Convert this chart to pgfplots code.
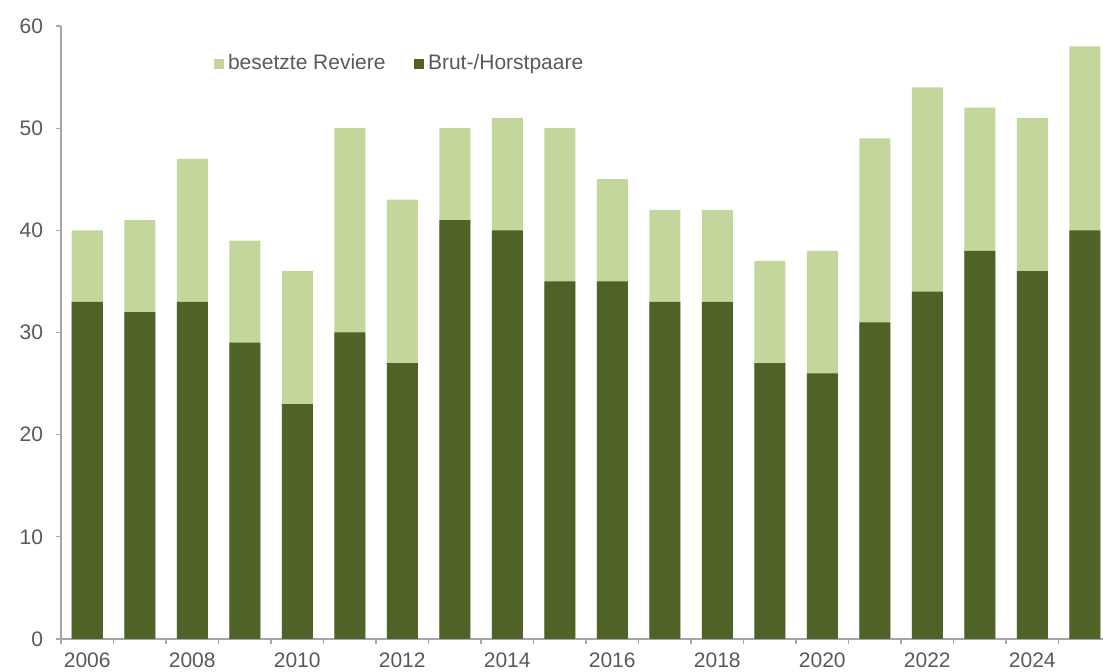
\documentclass[border=0pt]{standalone}
\usepackage{fontspec}
\setmainfont{Liberation Sans}
\usepackage{pgfplots}
\pgfplotsset{compat=1.18}
\definecolor{light}{HTML}{C3D69B}
\definecolor{dark}{HTML}{4F6228}
\definecolor{txt}{HTML}{595959}
\definecolor{axc}{HTML}{A6A6A6}
\begin{document}
\begin{tikzpicture}
\begin{axis}[
  scale only axis, width=525pt, height=306.5pt,
  xmin=-0.5, xmax=19.5, ymin=0, ymax=60,
  axis x line*=bottom, axis y line*=left,
  axis line style={axc, line width=0.6pt},
  tick align=outside,
  xtick={0,2,...,18},
  xticklabels={2006,2008,2010,2012,2014,2016,2018,2020,2022,2024},
  minor xtick={-0.5,0.5,...,19.5},
  major x tick style={draw=none},
  minor x tick style={axc, line width=0.6pt},
  minor tick length=2.5pt,
  ytick={0,10,...,60},
  major y tick style={axc, line width=0.6pt},
  major tick length=2.5pt,
  /pgf/number format/assume math mode=true,
  tick label style={font=\fontsize{10.5}{12}\selectfont, text=txt},
  xticklabel style={yshift=-0.8pt},
  yticklabel style={xshift=-3pt},
  legend style={at={(axis cs:2.4,56.3)}, anchor=west, draw=none, fill=none,
    font=\fontsize{10.5}{12}\selectfont, text=txt, inner sep=0pt,
    /tikz/every even column/.append style={column sep=12pt}},
  legend columns=2,
  legend cell align=left,
  legend image code/.code={\fill[#1] (0pt,-2.6pt) rectangle (5.2pt,2.6pt);},
]
\addplot[ybar, bar width=15.5pt, bar shift=0pt, fill=light, draw=none]
  coordinates {(0,40) (1,41) (2,47) (3,39) (4,36) (5,50) (6,43) (7,50) (8,51) (9,50)
               (10,45) (11,42) (12,42) (13,37) (14,38) (15,49) (16,54) (17,52) (18,51) (19,58)};
\addlegendentry{besetzte Reviere}
\addplot[ybar, bar width=15.5pt, bar shift=0pt, fill=dark, draw=none]
  coordinates {(0,33) (1,32) (2,33) (3,29) (4,23) (5,30) (6,27) (7,41) (8,40) (9,35)
               (10,35) (11,33) (12,33) (13,27) (14,26) (15,31) (16,34) (17,38) (18,36) (19,40)};
\addlegendentry{Brut-/Horstpaare}
\coordinate (bbsw) at (rel axis cs:0,0);
\end{axis}
\pgfresetboundingbox
\path ([shift={(-30.5pt,-16.5pt)}]bbsw) rectangle ([shift={(521pt,319.5pt)}]bbsw);
\end{tikzpicture}
\end{document}
